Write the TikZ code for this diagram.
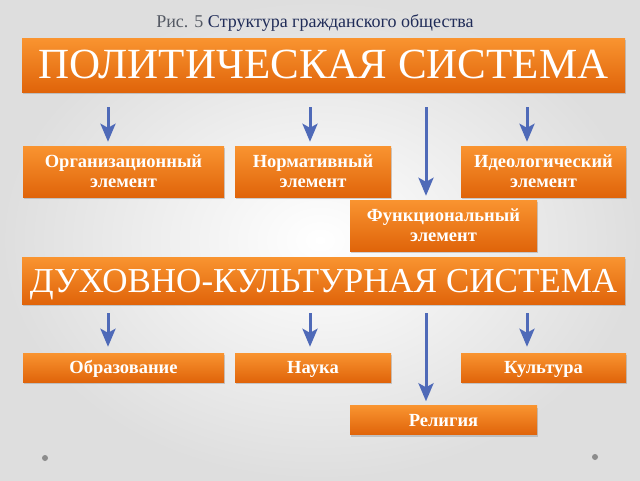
\documentclass[tikz,border=0pt]{standalone}
\usepackage{fontspec}
\setmainfont{Liberation Serif}
\usetikzlibrary{arrows.meta,shadows,calc}

\definecolor{orTop}{RGB}{249,148,48}
\definecolor{orBot}{RGB}{224,100,10}
\definecolor{arrBlue}{RGB}{79,106,184}
\definecolor{ttlBlue}{RGB}{32,44,88}
\definecolor{ttlGray}{RGB}{85,90,100}
\definecolor{bgGray}{RGB}{222,222,222}
\definecolor{dotGray}{RGB}{140,140,140}

\tikzset{
  sysbox/.style={rectangle, top color=orTop, bottom color=orBot,
    text=white, inner sep=0pt,
    drop shadow={opacity=0.35, shadow xshift=1pt, shadow yshift=-2pt}},
  bigbox/.style={sysbox, minimum width=603pt},
  elbox/.style={sysbox, align=center, minimum height=51pt,
    font=\bfseries\fontsize{18.5}{20}\selectfont},
  onebox/.style={sysbox, minimum height=29pt, text height=16pt, text depth=4pt,
    font=\bfseries\fontsize{18.5}{20}\selectfont},
  downarr/.style={draw=arrBlue, line width=3pt,
    -{Stealth[length=18pt, width=15pt, inset=4pt]}}
}

\begin{document}
\begin{tikzpicture}[x=1pt, y=-1pt]
  % background
  \useasboundingbox (0,0) rectangle (640,480);
  \shade[inner color=white, outer color=bgGray] (0,0) rectangle (640,480);
  \node[anchor=base] (title) at (315,27)
    {\fontsize{18}{20}\selectfont\textcolor{ttlGray}{Рис. 5}\ \textcolor{ttlBlue}{Структура гражданского общества}};

  % top system
  \node[bigbox, minimum height=54pt, text height=32pt, text depth=6pt,
    font=\fontsize{43}{46}\selectfont] (pol) at (323.5,65) {ПОЛИТИЧЕСКАЯ СИСТЕМА};
  \node[elbox, minimum width=201pt] (org) at (123.5,171.5) {Организационный\\элемент};
  \node[elbox, minimum width=156pt] (norm) at (313,171.5) {Нормативный\\элемент};
  \node[elbox, minimum width=165pt] (ideo) at (543.5,171.5) {Идеологический\\элемент};
  \node[elbox, minimum width=187pt] (func) at (443.5,225.5) {Функциональный\\элемент};

  % bottom system
  \node[bigbox, minimum height=47pt, text height=27pt, text depth=4pt,
    font=\fontsize{35}{38}\selectfont] (duh) at (323.5,280.5) {ДУХОВНО-КУЛЬТУРНАЯ СИСТЕМА};
  \node[onebox, minimum width=201pt] (obr) at (123.5,367.5) {Образование};
  \node[onebox, minimum width=156pt] (nauka) at (313,367.5) {Наука};
  \node[onebox, minimum width=165pt] (kult) at (543.5,367.5) {Культура};
  \node[onebox, minimum width=187pt] (rel) at (443.5,420) {Религия};

  % arrow columns
  \coordinate (x1) at (108,0);
  \coordinate (x2) at (310,0);
  \coordinate (x3) at (426,0);
  \coordinate (x4) at (527,0);

  \draw[downarr, shorten <=15pt, shorten >=4pt] (pol.south -| x1) -- (org.north -| x1);
  \draw[downarr, shorten <=15pt, shorten >=4pt] (pol.south -| x2) -- (norm.north -| x2);
  \draw[downarr, shorten <=15pt, shorten >=4pt] (pol.south -| x3) -- (func.north -| x3);
  \draw[downarr, shorten <=15pt, shorten >=4pt] (pol.south -| x4) -- (ideo.north -| x4);

  \draw[downarr, shorten <=9pt, shorten >=6pt] (duh.south -| x1) -- (obr.north -| x1);
  \draw[downarr, shorten <=9pt, shorten >=6pt] (duh.south -| x2) -- (nauka.north -| x2);
  \draw[downarr, shorten <=9pt, shorten >=4pt] (duh.south -| x3) -- (rel.north -| x3);
  \draw[downarr, shorten <=9pt, shorten >=6pt] (duh.south -| x4) -- (kult.north -| x4);

  % corner dots
  \fill[dotGray] (45,458) circle (3pt);
  \fill[dotGray] (595,457) circle (3pt);
\end{tikzpicture}
\end{document}
